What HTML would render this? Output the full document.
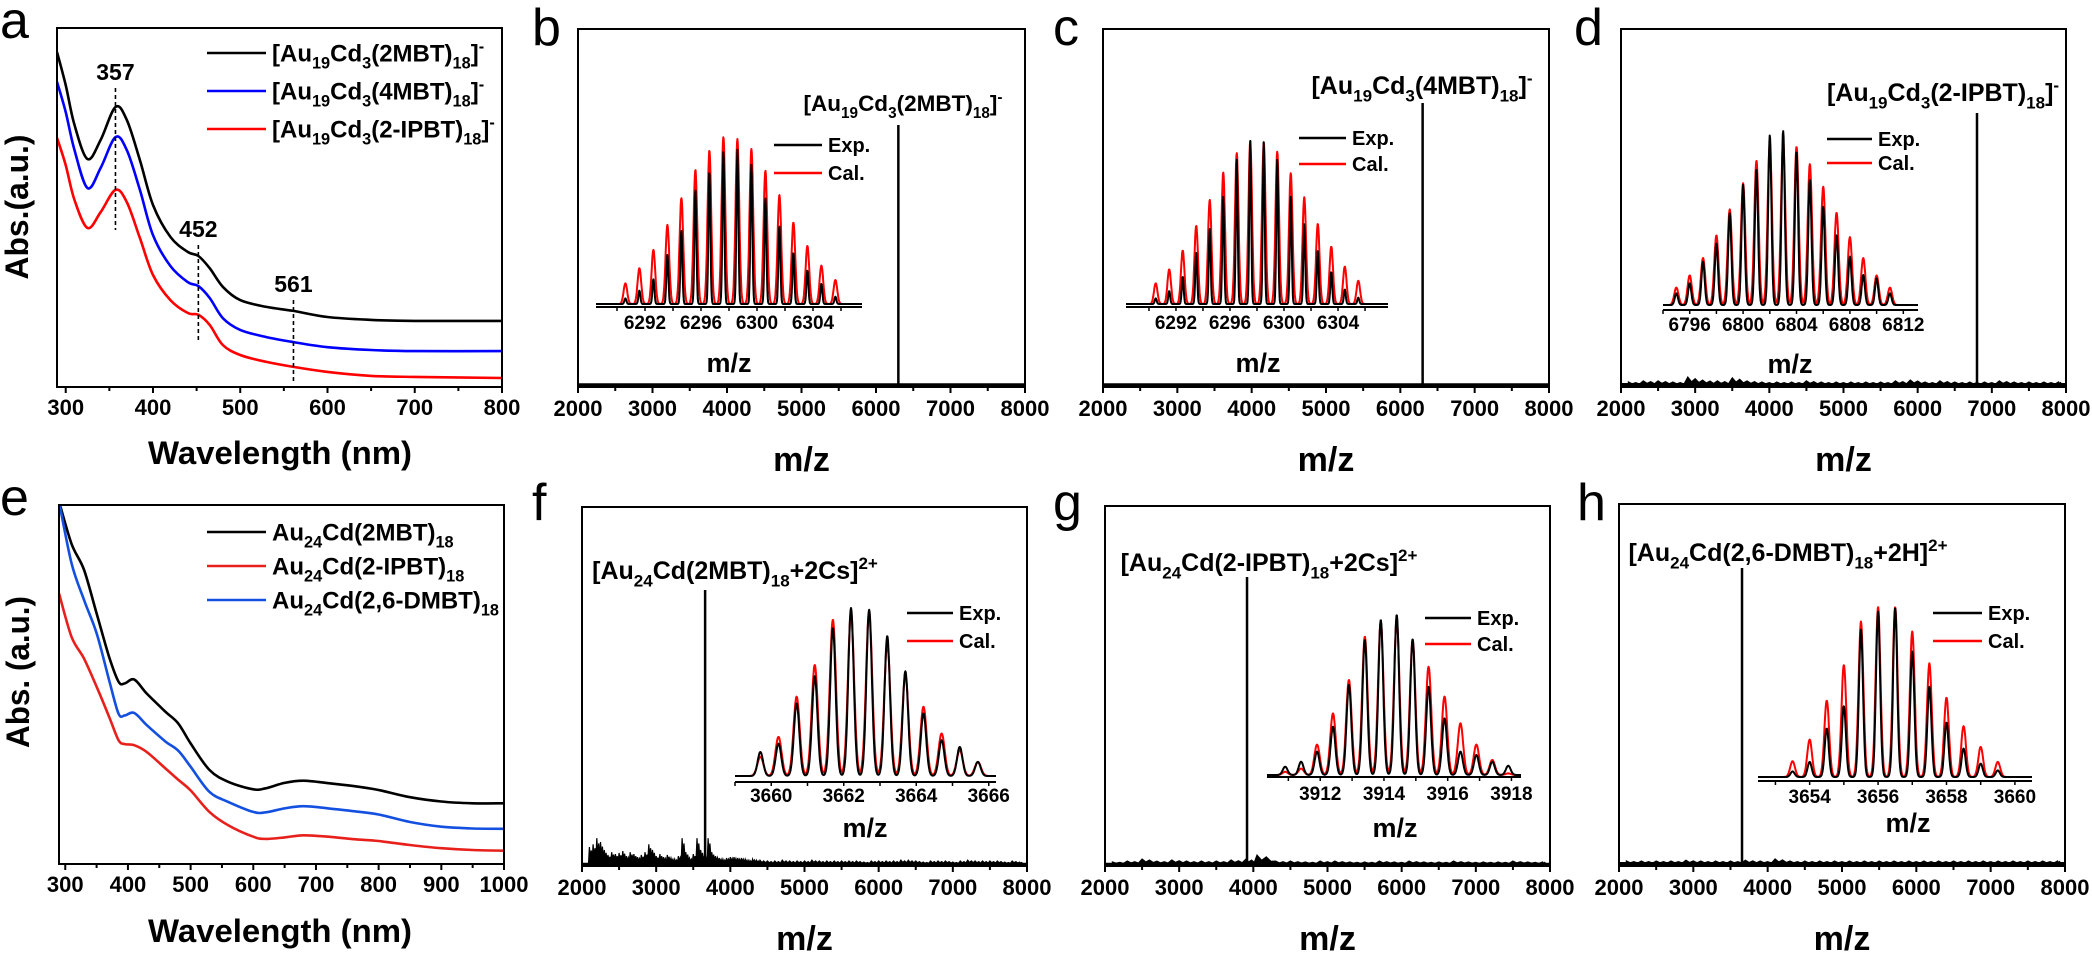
<!DOCTYPE html>
<html><head><meta charset="utf-8"><title>Au19Cd3 / Au24Cd spectra</title>
<style>
html,body{margin:0;padding:0;background:#fff;}
svg{display:block;font-family:"Liberation Sans",Arial,sans-serif;}
text{font-weight:bold;fill:#000;}
.plab{font-weight:normal;}
</style></head>
<body>
<svg id="fig" width="2092" height="953" viewBox="0 0 2092 953" xmlns="http://www.w3.org/2000/svg">
<defs>
<clipPath id="clipA"><rect x="57" y="28" width="445" height="359"/></clipPath>
<clipPath id="clipE"><rect x="59" y="505" width="445" height="359"/></clipPath>
</defs>
</svg>
<script>
// ---------- Panel a data (UV-vis) ----------
const aWave = [290,300,310,325,340,357,370,385,400,420,440,452,465,480,500,530,561,600,650,700,800];
const a2MBT = [.933,.841,.730,.635,.688,.780,.744,.632,.507,.418,.376,.365,.331,.279,.242,.223,.212,.195,.187,.184,.184];
const a4MBT = [.850,.766,.660,.554,.610,.696,.660,.549,.423,.337,.292,.281,.248,.192,.159,.139,.125,.111,.103,.100,.100];
const aIPBT = [.694,.618,.521,.443,.487,.549,.515,.415,.312,.242,.206,.201,.173,.117,.089,.070,.056,.042,.031,.028,.025];
const aTicks = [300,400,500,600,700,800];
const aMarks = [357,452,561];

// ---------- Panel e data (UV-vis) ----------
const eWave = [290,310,330,350,370,385,395,410,430,460,480,500,530,560,600,620,650,680,720,760,800,850,900,950,1000];
const e2MBT = [1.01,.892,.819,.698,.577,.508,.503,.514,.475,.424,.392,.336,.262,.229,.208,.211,.226,.232,.225,.217,.206,.186,.174,.169,.169];
const eDMBT = [1.01,.838,.735,.643,.512,.419,.414,.421,.387,.341,.316,.271,.201,.173,.145,.144,.155,.161,.155,.147,.138,.117,.104,.099,.098];
const eIPBT = [.754,.633,.572,.494,.410,.345,.334,.331,.312,.266,.235,.205,.145,.108,.076,.070,.074,.080,.076,.069,.064,.053,.044,.039,.037];
const eTicks = [300,400,500,600,700,800,900,1000];

// ---------- MS main axes ----------
const msTicks = [2000,3000,4000,5000,6000,7000,8000];
const bPeak = 6300, cPeak = 6300, dPeak = 6800, fPeak = 3660, gPeak = 3915, hPeak = 3655;

// noise (percent of main peak)
const fNoiseMz = [2050,2100,2150,2200,2250,2300,2350,2400,2450,2500,2550,2600,2650,2700,2750,2800,2850,2900,2950,3000,3050,3100,3150,3200,3250,3300,3350,3400,3450,3500,3550,3600,3650,3700,3750,3800,3850,3900,3950,4000,4050,4100,4150,4200,4250,4300,4350,4400,4500,4600,4700,4800,4900,5000,5100,5200,5300,5400,5500,5600,5700,5800,5900,6000,6100,6200,6300,6400,6500,6600,6700,6800,6900,7000,7100,7200,7300,7400,7500,7600,7700,7800,7900];
const fNoise = [0,6.2,7.2,9.4,8,5.1,3.3,4.3,3.6,4,4.7,2.9,4.3,3.6,2.5,3.3,4.3,7.2,5.1,2.9,3.6,2.5,3.3,2.2,1.8,2.9,9.4,4.3,2.2,3.6,9.4,5.1,2.9,9.4,4.3,2.9,2.2,1.8,2.2,2.5,2.5,2.2,2.2,1.8,1.4,1.8,1.4,1.4,1.1,1.1,1.4,1.1,1.1,1.1,1.4,1.1,1.1,1.1,1.1,1.1,1.1,0.7,1.1,1.1,1.1,1.1,1.4,1.4,1.1,0.7,1.1,1.1,1.1,0.7,1.1,1.4,1.1,1.1,1.1,1.1,0.7,1.1,0.7];
const dNoiseMz = [2100,2300,2500,2700,2900,3100,3300,3500,3700,3900,4100,4300,4500,4700,4900,5100,5300,5500,5700,5900,6100,6300,6500,6700,6900,7100,7300,7500,7700,7900];
const dNoise = [1.1,1.5,1.5,1.1,2.9,1.8,1.5,2.6,1.5,1.1,1.1,1.1,1.5,1.1,1.1,1.1,1.1,1.1,1.5,1.8,1.1,1.5,1.1,1.1,1.1,1.5,1.1,1.1,1.1,1.1];
const gNoiseMz = [2100,2300,2500,2700,2900,3100,3300,3500,3700,3900,4050,4300,4500,4700,4900,5100,5300,5500,5700,5900,6100,6300,6500,6700,6900,7100,7300,7500,7700,7900];
const gNoise = [0.7,1,1.7,1,1.4,1,1,1,1.4,1.7,3.1,1,1,0.7,1,1,0.7,0.7,1,0.7,1,0.7,0.7,1,0.7,0.7,0.7,1,0.7,0.7];
const hNoiseMz = [2100,2300,2500,2700,2900,3100,3300,3500,3700,3900,4100,4300,4500,4700,4900,5100,5300,5500,5700,5900,6100,6300,6500,6700,6900,7100,7300,7500,7700,7900];
const hNoise = [1,1,1,1,1.3,1,1,1,1.3,1,1.7,1,1,1,1,1,1,1,1,1,1,1,1,1,1,1,1,1,1,1];

// ---------- Inset isotope data ----------
const bCenters = [6290.6,6291.6,6292.6,6293.6,6294.6,6295.6,6296.6,6297.6,6298.6,6299.6,6300.6,6301.6,6302.6,6303.6,6304.6,6305.6];
const bCal = [.124,.214,.324,.474,.634,.804,.92,1.0,.988,.928,.798,.654,.488,.348,.23,.144];
const bExp = [.034,.08,.148,.294,.44,.688,.794,.914,.924,.834,.634,.468,.308,.2,.12,.044];
const bInsetTicks = [6292,6296,6300,6304];
const cCenters = [6290.5,6291.5,6292.5,6293.5,6294.5,6295.5,6296.5,6297.5,6298.5,6299.5,6300.5,6301.5,6302.5,6303.5,6304.5,6305.5];
const cCal = [.127,.213,.328,.48,.639,.807,.926,1.0,.992,.934,.803,.656,.492,.352,.23,.143];
const cExp = [.035,.08,.168,.316,.463,.66,.885,1.0,.992,.885,.66,.492,.328,.197,.09,.039];
const cInsetTicks = [6292,6296,6300,6304];
const dCenters = [6795,6796,6797,6798,6799,6800,6801,6802,6803,6804,6805,6806,6807,6808,6809,6810,6811];
const dCal = [.10,.17,.27,.40,.55,.70,.83,.93,.94,.91,.81,.68,.53,.39,.27,.17,.10];
const dExp = [.067,.125,.249,.354,.527,.69,.78,.975,1.0,.881,.718,.565,.402,.278,.172,.153,.067];
const dInsetTicks = [6796,6800,6804,6808,6812];
const fCenters = [3659.7,3660.2,3660.7,3661.2,3661.7,3662.2,3662.7,3663.2,3663.7,3664.2,3664.7,3665.2,3665.7];
const fCal = [.114,.233,.472,.661,.930,.970,.98,.787,.602,.412,.253,.153,.084];
const fExp = [.143,.193,.432,.594,.880,1.0,.990,.833,.623,.373,.213,.173,.084];
const fInsetTicks = [3660,3662,3664,3666];
const gCenters = [3910.9,3911.4,3911.9,3912.4,3912.9,3913.4,3913.9,3914.4,3914.9,3915.4,3915.9,3916.4,3916.9,3917.4,3917.9];
const gCal = [.02,.04,.19,.385,.594,.865,.958,.97,.844,.677,.49,.323,.19,.094,.01];
const gExp = [.052,.083,.146,.302,.563,.844,.969,1.0,.848,.552,.354,.146,.125,.083,.058];
const gInsetTicks = [3912,3914,3916,3918];
const hCenters = [3653.5,3654,3654.5,3655,3655.5,3656,3656.5,3657,3657.5,3658,3658.5,3659,3659.5];
const hCal = [.093,.22,.449,.659,.915,1.0,1.0,.856,.669,.467,.299,.177,.089];
const hExp = [.033,.089,.285,.417,.866,.974,.994,.738,.531,.321,.167,.079,.039];
const hInsetTicks = [3654,3656,3658,3660];

// ---------- helpers ----------
const NS = 'http://www.w3.org/2000/svg';
const fig = document.getElementById('fig');
function mk(tag, parent){ const e = document.createElementNS(NS, tag); parent.appendChild(e); return e; }
function lin(d0,d1,p0,p1){ return v => p0 + (v-d0)/(d1-d0)*(p1-p0); }
function richText(parent, x, y, str, size, anchor){
  const t = mk('text', parent);
  t.setAttribute('x', x); t.setAttribute('y', y);
  t.setAttribute('font-size', size);
  t.setAttribute('text-anchor', anchor || 'start');
  const re = /([_^])\{([^}]*)\}|([^_^]+)/g; let m; let shift = 0;
  while ((m = re.exec(str))){
    const s = mk('tspan', t);
    if (m[3] !== undefined){ s.textContent = m[3]; s.setAttribute('dy', -shift); shift = 0; }
    else {
      const dy = m[1] === '_' ? size*0.3 : -size*0.4;
      s.setAttribute('dy', dy - shift); shift = dy;
      s.setAttribute('font-size', size*0.68);
      s.textContent = m[2];
    }
  }
  return t;
}
function smoothPath(pts){
  let d = 'M' + pts[0][0].toFixed(1) + ',' + pts[0][1].toFixed(1);
  for (let i=0;i<pts.length-1;i++){
    const p0 = pts[i-1]||pts[i], p1 = pts[i], p2 = pts[i+1], p3 = pts[i+2]||pts[i+1];
    const c1 = [p1[0]+(p2[0]-p0[0])/6, p1[1]+(p2[1]-p0[1])/6];
    const c2 = [p2[0]-(p3[0]-p1[0])/6, p2[1]-(p3[1]-p1[1])/6];
    d += 'C'+c1[0].toFixed(1)+','+c1[1].toFixed(1)+' '+c2[0].toFixed(1)+','+c2[1].toFixed(1)+' '+p2[0].toFixed(1)+','+p2[1].toFixed(1);
  }
  return d;
}
function panelLabel(ch, x, y){
  const t = mk('text', fig);
  t.setAttribute('x', x); t.setAttribute('y', y);
  t.setAttribute('font-size', 52);
  t.setAttribute('class', 'plab');
  t.textContent = ch;
  
  
}
function frame(g, x0,x1,y0,y1, sx, ticks, minorStep, d0, d1, labY, name){
  const r = mk('rect', g);
  r.setAttribute('x', x0); r.setAttribute('y', y0); r.setAttribute('width', x1-x0); r.setAttribute('height', y1-y0);
  r.setAttribute('fill', 'none'); r.setAttribute('stroke', '#000'); r.setAttribute('stroke-width', 2);
  
  
  const first = Math.ceil(d0/minorStep)*minorStep;
  for (let v=first; v<=d1+1e-9; v+=minorStep){
    const isMajor = ticks.some(t => Math.abs(t-v) < 1e-6);
    const l = mk('line', g);
    l.setAttribute('x1', sx(v)); l.setAttribute('x2', sx(v));
    l.setAttribute('y1', y1); l.setAttribute('y2', y1 + (isMajor ? 6 : 4));
    l.setAttribute('stroke', '#000'); l.setAttribute('stroke-width', 2);
    
    
  }
  ticks.forEach(v => {
    const t = mk('text', g);
    t.setAttribute('x', sx(v)); t.setAttribute('y', labY);
    t.setAttribute('font-size', 22); t.setAttribute('text-anchor', 'middle');
    t.textContent = v;
    
    
  });
}
function axisTitle(g, x, y, str, size, rot, len, name){
  const t = mk('text', g);
  t.setAttribute('x', x); t.setAttribute('y', y);
  t.setAttribute('font-size', size); t.setAttribute('text-anchor', 'middle');
  if (rot) t.setAttribute('transform', 'rotate(-90 ' + x + ' ' + y + ')');
  if (len){ t.setAttribute('textLength', len); t.setAttribute('lengthAdjust', 'spacingAndGlyphs'); }
  t.textContent = str;
  
  
}
function legendEntry(g, lx0, lx1, y, color, label, size, name){
  const l = mk('line', g);
  l.setAttribute('x1', lx0); l.setAttribute('x2', lx1); l.setAttribute('y1', y); l.setAttribute('y2', y);
  l.setAttribute('stroke', color); l.setAttribute('stroke-width', 2.5);
  
  
  const t = richText(g, lx1 + 6, y + size*0.35, label, size, 'start');
  
  
}

// ---------- UV-vis panels ----------
function uvPanel(name, box, dom, waves, series, colors, ticks, clip){
  const g = mk('g', fig);
  
  
  const sx = lin(dom[0], dom[1], box[0], box[1]);
  const sy = lin(0, 1, box[3], box[2]);
  const cg = mk('g', g);
  cg.setAttribute('clip-path', 'url(#' + clip + ')');
  series.forEach((s, i) => {
    const p = mk('path', cg);
    p.setAttribute('d', smoothPath(waves.map((w, k) => [sx(w), sy(s[k])])));
    p.setAttribute('fill', 'none'); p.setAttribute('stroke', colors[i]); p.setAttribute('stroke-width', 2.6);
    
    
  });
  frame(g, box[0], box[1], box[2], box[3], sx, ticks, 50, dom[0], dom[1], box[3]+28, name);
  return {g, sx, sy};
}

const A = uvPanel('panel-a', [57,502,28,387], [290,800], aWave, [a2MBT, a4MBT, aIPBT], ['#000','#0000ff','#ff0000'], aTicks, 'clipA');
const aMarkTop = [88, 245, 300], aMarkBot = [230, 343, 383], aMarkLab = [80, 237, 292];
aMarks.forEach((w, i) => {
  const l = mk('line', A.g);
  l.setAttribute('x1', A.sx(w)); l.setAttribute('x2', A.sx(w));
  l.setAttribute('y1', aMarkTop[i]); l.setAttribute('y2', aMarkBot[i]);
  l.setAttribute('stroke', '#000'); l.setAttribute('stroke-width', 1.6); l.setAttribute('stroke-dasharray', '4,3');
  
  
  const t = mk('text', A.g);
  t.setAttribute('x', A.sx(w)); t.setAttribute('y', aMarkLab[i]);
  t.setAttribute('font-size', 23); t.setAttribute('text-anchor', 'middle');
  t.textContent = w;
  
  
});
legendEntry(A.g, 207, 266, 53, '#000', '[Au_{19}Cd_{3}(2MBT)_{18}]^{-}', 24, 'legend-2mbt');
legendEntry(A.g, 207, 266, 91, '#0000ff', '[Au_{19}Cd_{3}(4MBT)_{18}]^{-}', 24, 'legend-4mbt');
legendEntry(A.g, 207, 266, 129, '#ff0000', '[Au_{19}Cd_{3}(2-IPBT)_{18}]^{-}', 24, 'legend-2ipbt');
axisTitle(A.g, 280, 464, 'Wavelength (nm)', 32, false, 264, 'panel-a-x-axis-title');
axisTitle(A.g, 28, 207, 'Abs.(a.u.)', 32, true, 145, 'panel-a-y-axis-title');
panelLabel('a', 0, 38);

const E = uvPanel('panel-e', [59,504,505,864], [290,1000], eWave, [e2MBT, eIPBT, eDMBT], ['#000','#e8201c','#1450e0'], eTicks, 'clipE');
legendEntry(E.g, 207, 266, 532, '#000', 'Au_{24}Cd(2MBT)_{18}', 24, 'legend-e-2mbt');
legendEntry(E.g, 207, 266, 566, '#e8201c', 'Au_{24}Cd(2-IPBT)_{18}', 24, 'legend-e-2ipbt');
legendEntry(E.g, 207, 266, 600, '#1450e0', 'Au_{24}Cd(2,6-DMBT)_{18}', 24, 'legend-e-26dmbt');
axisTitle(E.g, 280, 942, 'Wavelength (nm)', 32, false, 264, 'panel-e-x-axis-title');
axisTitle(E.g, 29, 672, 'Abs. (a.u.)', 32, true, 152, 'panel-e-y-axis-title');
panelLabel('e', 0, 515);

// ---------- MS panels ----------
function msPanel(p){
  const g = mk('g', fig);
  
  
  const [x0,x1,y0,y1] = p.box;
  const sx = lin(2000, 8000, x0, x1);
  const base = y1 - 2;
  const sy = lin(0, 100, base, p.peakTop);
  const bl = mk('line', g);
  bl.setAttribute('x1', x0); bl.setAttribute('x2', x1); bl.setAttribute('y1', base); bl.setAttribute('y2', base);
  bl.setAttribute('stroke', '#000'); bl.setAttribute('stroke-width', p.baseW || 2.5);
  
  
  if (p.noiseMz){
    let d = 'M' + sx(p.noiseMz[0]) + ',' + base;
    p.noiseMz.forEach((m, i) => {
      const xc = sx(m);
      const next = i < p.noiseMz.length-1 ? sx(p.noiseMz[i+1]) : xc + 4;
      const w = next - xc;
      d += 'L' + (xc).toFixed(1) + ',' + sy(p.noise[i]).toFixed(1);
      d += 'L' + (xc + w*0.25).toFixed(1) + ',' + sy(p.noise[i]*0.4).toFixed(1);
      d += 'L' + (xc + w*0.5).toFixed(1) + ',' + sy(p.noise[i]*0.8).toFixed(1);
      d += 'L' + (xc + w*0.75).toFixed(1) + ',' + sy(p.noise[i]*0.3).toFixed(1);
    });
    d += 'L' + sx(p.noiseMz[p.noiseMz.length-1]) + ',' + base + 'Z';
    const n = mk('path', g);
    n.setAttribute('d', d);
    n.setAttribute('fill', '#000'); n.setAttribute('stroke', '#000'); n.setAttribute('stroke-width', 1.2);
    
    
  }
  const pk = mk('line', g);
  pk.setAttribute('x1', sx(p.peak)); pk.setAttribute('x2', sx(p.peak));
  pk.setAttribute('y1', base); pk.setAttribute('y2', sy(100));
  pk.setAttribute('stroke', '#000'); pk.setAttribute('stroke-width', 2.5);
  
  
  frame(g, x0, x1, y0, y1, sx, msTicks, 500, 2000, 8000, y1 + 29, p.name);
  axisTitle(g, (x0+x1)/2, y1 + 84, 'm/z', 34, false, 0, p.name + '-x-axis-title');
  const an = richText(g, p.ann[0], p.ann[1], p.annText, p.annSize, 'middle');
  
  
  const ins = p.inset;
  const ix = lin(ins.dom[0], ins.dom[1], ins.x0, ins.x1);
  const iy = v => ins.base - v*(ins.base - ins.top);
  [['cal', ins.cal, '#ff0000', ins.sCal], ['exp', ins.exp, '#000', ins.sExp]].forEach(([nm, vals, col, sig]) => {
    const pts = [];
    const N = 700;
    for (let k=0; k<=N; k++){
      const m = ins.dom[0] + (ins.dom[1]-ins.dom[0])*k/N;
      let s = 0;
      ins.centers.forEach((c, j) => { s += vals[j]*Math.exp(-(m-c)*(m-c)/(2*sig*sig)); });
      pts.push(ix(m).toFixed(1) + ',' + iy(s).toFixed(1));
    }
    const pl = mk('polyline', g);
    pl.setAttribute('points', pts.join(' '));
    pl.setAttribute('fill', 'none'); pl.setAttribute('stroke', col); pl.setAttribute('stroke-width', 2);
    pl.setAttribute('stroke-linejoin', 'round');
    
    
  });
  const ax = mk('line', g);
  ax.setAttribute('x1', ins.x0); ax.setAttribute('x2', ins.x1); ax.setAttribute('y1', ins.axisY); ax.setAttribute('y2', ins.axisY);
  ax.setAttribute('stroke', '#000'); ax.setAttribute('stroke-width', 2);
  
  
  const step = (ins.ticks[1]-ins.ticks[0])/2;
  for (let v = ins.ticks[0] - step*Math.floor((ins.ticks[0]-ins.dom[0])/step); v <= ins.dom[1]; v += step){
    const tk = mk('line', g);
    tk.setAttribute('x1', ix(v)); tk.setAttribute('x2', ix(v));
    tk.setAttribute('y1', ins.axisY); tk.setAttribute('y2', ins.axisY + 4);
    tk.setAttribute('stroke', '#000'); tk.setAttribute('stroke-width', 1.5);
    
    
  }
  ins.ticks.forEach(v => {
    const t = mk('text', g);
    t.setAttribute('x', ix(v)); t.setAttribute('y', ins.labY + 7);
    t.setAttribute('font-size', 19); t.setAttribute('text-anchor', 'middle');
    t.textContent = v;
    
    
  });
  const mz = mk('text', g);
  mz.setAttribute('x', ins.mz[0]); mz.setAttribute('y', ins.mz[1] + 9);
  mz.setAttribute('font-size', 27); mz.setAttribute('text-anchor', 'middle');
  mz.textContent = 'm/z';
  
  
  legendEntry(g, ins.leg[0], ins.leg[1], ins.leg[2], '#000', 'Exp.', 20, p.name + '-legend-exp');
  legendEntry(g, ins.leg[0], ins.leg[1], ins.leg[3], '#ff0000', 'Cal.', 20, p.name + '-legend-cal');
}

msPanel({name:'panel-b', box:[578,1025,29,387], peak:bPeak, peakTop:125, ann:[903,111], annSize:22.5, annText:'[Au_{19}Cd_{3}(2MBT)_{18}]^{-}', baseW:3.5,
  inset:{x0:596,x1:862,dom:[6288.5,6307.5],axisY:307,base:304,top:137,centers:bCenters,cal:bCal,exp:bExp,sCal:.13,sExp:.07,ticks:bInsetTicks,labY:322,mz:[729,363],leg:[774,822,145,173]}});
msPanel({name:'panel-c', box:[1103,1549,29,387], peak:cPeak, peakTop:103, ann:[1422,94], annSize:25, annText:'[Au_{19}Cd_{3}(4MBT)_{18}]^{-}', baseW:3.5,
  inset:{x0:1126,x1:1388,dom:[6288.3,6307.7],axisY:307,base:304,top:141,centers:cCenters,cal:cCal,exp:cExp,sCal:.13,sExp:.07,ticks:cInsetTicks,labY:322,mz:[1258,363],leg:[1299,1346,138,164]}});
msPanel({name:'panel-d', box:[1621,2066,29,387], peak:dPeak, peakTop:113, ann:[1943,101], annSize:25, annText:'[Au_{19}Cd_{3}(2-IPBT)_{18}]^{-}', noiseMz:dNoiseMz, noise:dNoise, baseW:4,
  inset:{x0:1663,x1:1918,dom:[6794.0,6813.1],axisY:310,base:305,top:131,centers:dCenters,cal:dCal,exp:dExp,sCal:.16,sExp:.12,ticks:dInsetTicks,labY:324,mz:[1790,364],leg:[1827,1872,139,163]}});
msPanel({name:'panel-f', box:[582,1027,507,866], peak:fPeak, peakTop:590, ann:[735,579], annSize:25, annText:'[Au_{24}Cd(2MBT)_{18}+2Cs]^{2+}', noiseMz:fNoiseMz, noise:fNoise,
  inset:{x0:735,x1:996,dom:[3659,3666.2],axisY:782,base:776,top:608,centers:fCenters,cal:fCal,exp:fExp,sCal:.085,sExp:.075,ticks:fInsetTicks,labY:795,mz:[865,828],leg:[907,953,613,641]}});
msPanel({name:'panel-g', box:[1105,1550,506,866], peak:gPeak, peakTop:577, ann:[1269,571], annSize:25, annText:'[Au_{24}Cd(2-IPBT)_{18}+2Cs]^{2+}', noiseMz:gNoiseMz, noise:gNoise,
  inset:{x0:1267,x1:1521,dom:[3910.33,3918.3],axisY:777,base:775,top:615,centers:gCenters,cal:gCal,exp:gExp,sCal:.085,sExp:.075,ticks:gInsetTicks,labY:793,mz:[1395,828],leg:[1425,1471,618,644]}});
msPanel({name:'panel-h', box:[1619,2065,504,866], peak:hPeak, peakTop:568, ann:[1788,561], annSize:25, annText:'[Au_{24}Cd(2,6-DMBT)_{18}+2H]^{2+}', noiseMz:hNoiseMz, noise:hNoise, baseW:4,
  inset:{x0:1758,x1:2032,dom:[3652.49,3660.5],axisY:781,base:777,top:607,centers:hCenters,cal:hCal,exp:hExp,sCal:.07,sExp:.06,ticks:hInsetTicks,labY:796,mz:[1908,823],leg:[1933,1982,613,641]}});

panelLabel('b', 532, 45);
panelLabel('c', 1053, 45);
panelLabel('d', 1574, 45);
panelLabel('f', 532, 520);
panelLabel('g', 1053, 520);
panelLabel('h', 1577, 520);
</script>
</body></html>
